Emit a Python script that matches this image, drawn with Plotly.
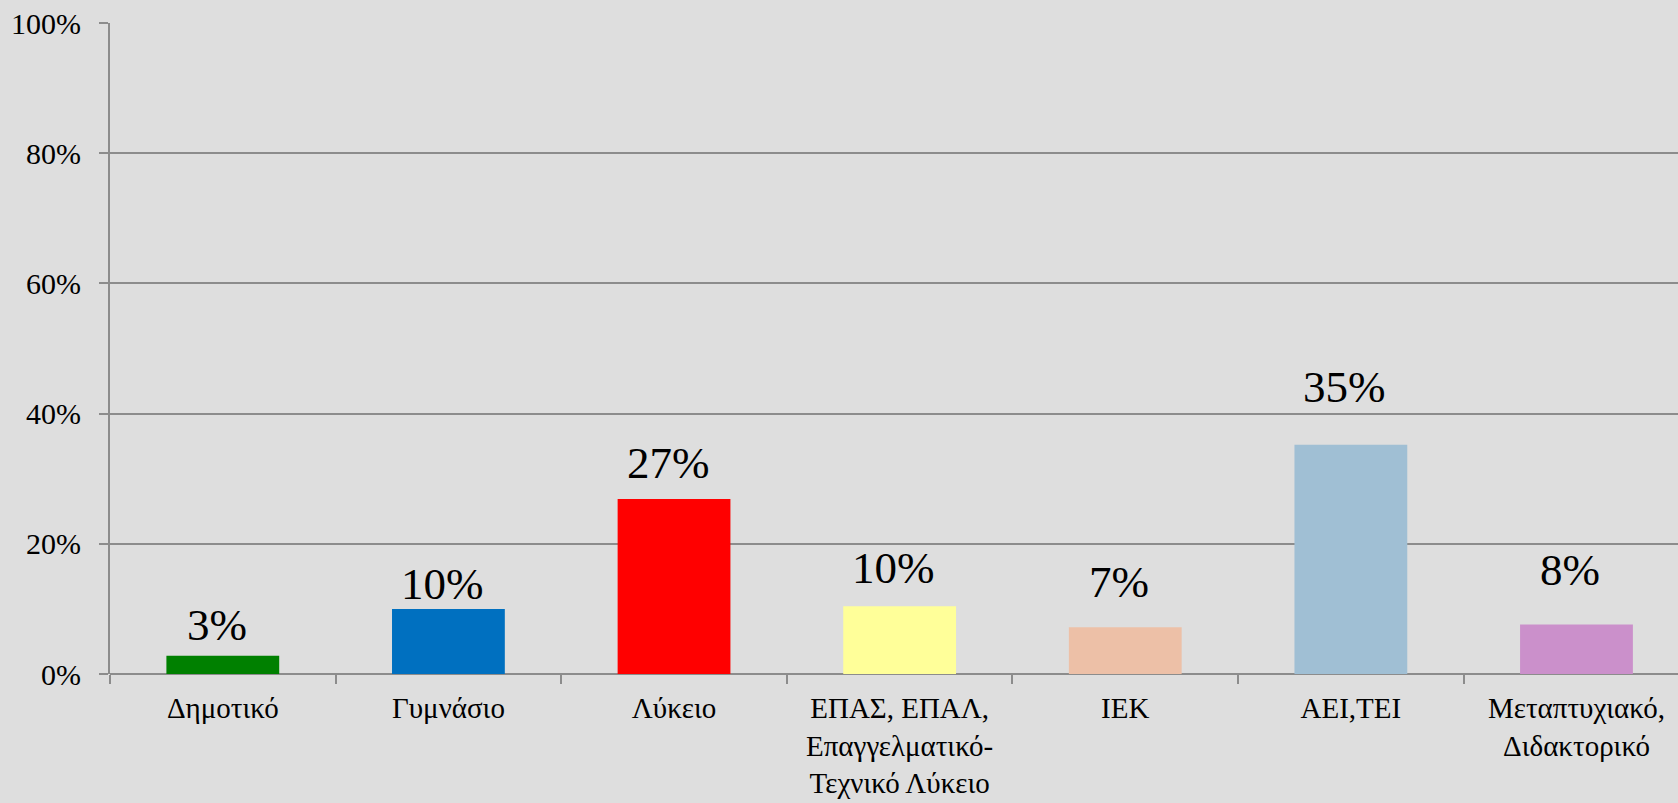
import plotly.graph_objects as go

categories = ["Δημοτικό", "Γυμνάσιο", "Λύκειο",
              "ΕΠΑΣ, ΕΠΑΛ,<br>Επαγγελματικό-<br>Τεχνικό Λύκειο",
              "ΙΕΚ", "ΑΕΙ,ΤΕΙ", "Μεταπτυχιακό,<br>Διδακτορικό"]
values = [0.028, 0.100, 0.269, 0.104, 0.072, 0.352, 0.076]
labels = ["3%", "10%", "27%", "10%", "7%", "35%", "8%"]

colors = ["#008000", "#0070C0", "#FF0000", "#FFFF99", "#EDC0A7", "#A0BFD4", "#CB90CB"]
label_shift = [4, -2, 9, 11, 18, 31, 28]  # pixel offsets of value labels (style)

FONT = "Liberation Serif"

fig = go.Figure()
fig.add_trace(go.Bar(
    x=list(range(len(categories))), y=values,
    marker=dict(color=colors, line=dict(width=0)),
    width=0.5, hoverinfo="skip",
))

for i, (v, t) in enumerate(zip(values, labels)):
    fig.add_annotation(x=i, y=v, xref="x", yref="y", text=t, showarrow=False,
                       yanchor="bottom", yshift=label_shift[i], xshift=-6,
                       font=dict(family=FONT, size=45, color="black"))

fig.update_layout(
    width=1678, height=803,
    margin=dict(l=110, r=0, t=23, b=129),
    paper_bgcolor="#DEDEDE", plot_bgcolor="#DEDEDE",
    showlegend=False, bargap=0.5,
    font=dict(family=FONT, size=30, color="black"),
)
fig.update_xaxes(
    type="linear", range=[-0.5, 6.45],
    tickmode="array", tickvals=list(range(len(categories))), ticktext=categories,
    ticks="", showgrid=False, zeroline=False,
    showline=False, ticklabelstandoff=14,
    tickfont=dict(family=FONT, size=29, color="black"),
)
# boundary ticks drawn with minor ticks
fig.update_xaxes(minor=dict(tickmode="array", tickvals=[i - 0.5 for i in range(len(categories) + 1)],
                            ticks="outside", ticklen=9, tickwidth=2, tickcolor="#8C8C8C", showgrid=False))
fig.update_yaxes(
    range=[0, 1], dtick=0.2, tickformat=".0%",
    showgrid=True, gridcolor="#8C8C8C", gridwidth=2,
    showline=True, linecolor="#8C8C8C", linewidth=2,
    ticks="outside", ticklen=9, tickwidth=2, tickcolor="#8C8C8C",
    zeroline=True, zerolinecolor="#8C8C8C", zerolinewidth=2,
    ticklabelstandoff=12,
    tickfont=dict(family=FONT, size=30, color="black"),
)

fig.write_html(
    "out.html",
    config={"displayModeBar": False, "staticPlot": True},
    post_script="document.body.style.margin='0';document.body.style.background='#DEDEDE';"
                "document.documentElement.style.overflow='hidden';",
)
